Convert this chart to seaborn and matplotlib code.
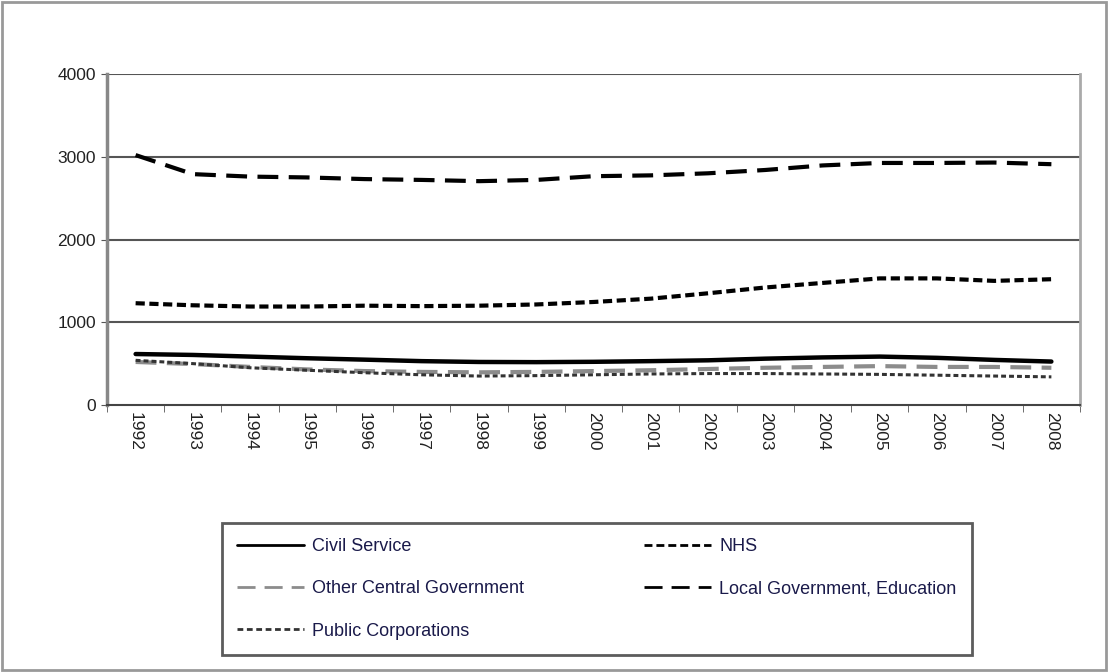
import matplotlib
matplotlib.use("Agg")
import matplotlib.pyplot as plt
import seaborn as sns
import pandas as pd
from matplotlib.patches import Rectangle
from matplotlib.lines import Line2D

years = list(range(1992, 2009))
civil_service = [616, 605, 585, 565, 548, 530, 520, 518, 522, 530, 540, 560, 575, 585, 570, 545, 525]
nhs = [1230, 1205, 1190, 1190, 1200, 1195, 1200, 1215, 1245, 1285, 1350, 1420, 1475, 1530, 1530, 1500, 1520]
other_central = [520, 495, 460, 430, 410, 400, 395, 400, 410, 420, 435, 450, 460, 470, 460, 460, 450]
local_gov = [3020, 2790, 2760, 2750, 2730, 2720, 2705, 2720, 2765, 2775, 2800, 2840, 2895, 2925, 2925, 2930, 2910]
public_corps = [540, 500, 450, 420, 390, 365, 350, 355, 365, 375, 380, 380, 375, 370, 360, 350, 340]

labels = ["Civil Service", "NHS", "Other Central Government",
          "Local Government, Education", "Public Corporations"]
series = [civil_service, nhs, other_central, local_gov, public_corps]

styles = {
    "Civil Service": dict(color="black", dashes=None, lw=3.2),
    "NHS": dict(color="black", dashes=(2.2, 1.1), lw=3.0),
    "Other Central Government": dict(color="#8c8c8c", dashes=(5, 2.5), lw=3.0),
    "Local Government, Education": dict(color="black", dashes=(5, 2.5), lw=3.0),
    "Public Corporations": dict(color="#333333", dashes=(1.6, 1.0), lw=2.2),
}

sns.set_style("white")
plt.rcParams["font.family"] = ["Liberation Sans", "DejaVu Sans"]

fig = plt.figure(figsize=(11.08, 6.72), dpi=100)
ax = fig.add_axes([107/1108, (672-405)/672, (1080-107)/1108, (405-74)/672])

for lab, vals in zip(labels, series):
    df = pd.DataFrame({"pos": range(len(years)), "value": vals})
    st = styles[lab]
    sns.lineplot(data=df, x="pos", y="value", ax=ax, color=st["color"],
                 lw=st["lw"], legend=False)
    line = ax.lines[-1]
    if st["dashes"] is not None:
        line.set_dashes(st["dashes"])

ax.set_xlim(-0.5, len(years) - 0.5)
ax.set_ylim(0, 4000)
ax.set_yticks([0, 1000, 2000, 3000, 4000])
ax.set_xticks(range(len(years)))
ax.set_xticklabels([str(y) for y in years], rotation=270, fontsize=12.5, color="#222222")
ax.tick_params(axis="y", labelsize=12.5, labelcolor="#222222", length=4, color="#555555",
               left=True, pad=4)
ax.set_xticks([i - 0.5 for i in range(len(years) + 1)], minor=True)
ax.tick_params(axis="x", which="major", length=0, pad=5)
ax.tick_params(axis="x", which="minor", length=5, color="#555555", bottom=True)
ax.set_xlabel("")
ax.set_ylabel("")

for y in [1000, 2000, 3000, 4000]:
    ax.axhline(y, color="#555555", lw=1.5, zorder=0)

ax.spines["top"].set_visible(False)
ax.spines["left"].set_color("#888888")
ax.spines["left"].set_linewidth(2.5)
ax.spines["right"].set_color("#aaaaaa")
ax.spines["right"].set_linewidth(2.0)
ax.spines["bottom"].set_color("#444444")
ax.spines["bottom"].set_linewidth(1.5)

order = ["Civil Service", "Other Central Government", "Public Corporations",
         "NHS", "Local Government, Education"]
leg_handles = []
for o in order:
    st = styles[o]
    h = Line2D([], [], color=st["color"], lw=2.0)
    if st["dashes"] is not None:
        h.set_dashes(tuple(d * 1.3 for d in st["dashes"]))
    leg_handles.append(h)

leg = fig.legend(leg_handles, order, ncol=2,
                 loc="lower left",
                 bbox_to_anchor=(222/1108, 17/672, 750/1108, 130/672),
                 mode="expand", frameon=True, fancybox=False, fontsize=13,
                 handlelength=3.7, handletextpad=0.45, labelspacing=1.4,
                 borderpad=0.85, borderaxespad=0.0)
for t in leg.get_texts():
    t.set_color("#1a1a4a")
leg.get_frame().set_edgecolor("#333333")
leg.get_frame().set_linewidth(2.0)

fig.add_artist(Rectangle((0.002, 0.003), 0.996, 0.994, transform=fig.transFigure,
                         fill=False, edgecolor="#999999", lw=2.0))

fig.savefig("out.png", dpi=100)
